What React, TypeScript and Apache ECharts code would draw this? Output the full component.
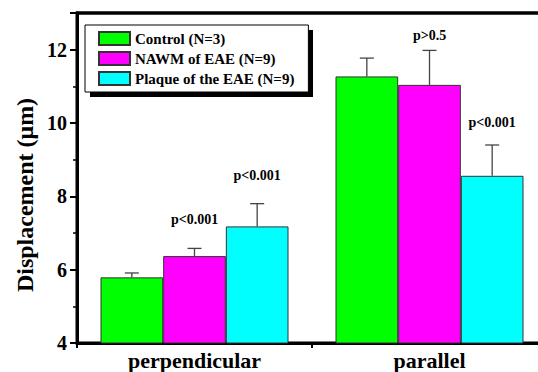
import React, { useEffect, useRef } from "react";
import * as echarts from "echarts";

const categories = ["perpendicular", "parallel"];
const seriesNames = ["Control (N=3)", "NAWM of EAE (N=9)", "Plaque of the EAE (N=9)"];
const seriesColors = ["#00FF00", "#FF00FF", "#00FFFF"];
const controlMean = [5.79, 11.27];
const controlErrTop = [5.91, 11.77];
const nawmMean = [6.37, 11.04];
const nawmErrTop = [6.58, 11.98];
const plaqueMean = [7.18, 8.56];
const plaqueErrTop = [7.8, 9.4];
// p-value annotations: category index, series index, text, y value of label
const pCat = [0, 0, 1, 1];
const pSeries = [1, 2, 1, 2];
const pText = ["p<0.001", "p<0.001", "p>0.5", "p<0.001"];
const pY = [7.37, 8.57, 12.38, 10.01];
const yTicks = [4, 6, 8, 10, 12];

const means = [controlMean, nawmMean, plaqueMean];
const errTops = [controlErrTop, nawmErrTop, plaqueErrTop];

const FONT = "Liberation Serif";

export default function App() {
  const ref = useRef<HTMLDivElement>(null);
  useEffect(() => {
    if (!ref.current) return;
    const chart = echarts.init(ref.current, null, { renderer: "svg" });
    const barFrac = 0.8 / 3;

    const barSeries = seriesNames.map((name, i) => ({
      name,
      type: "bar",
      data: means[i],
      barGap: "0%",
      barCategoryGap: "20%",
      itemStyle: { color: seriesColors[i], borderColor: "#333", borderWidth: 1 },
      z: 2,
    }));

    const errSeries = seriesNames.map((name, i) => ({
      type: "custom",
      name: name + "_err",
      z: 1,
      data: categories.map((_, c) => [c, means[i][c], errTops[i][c]]),
      renderItem: (params: any, api: any) => {
        const band = api.size([1, 0])[0];
        const bw = band * barFrac;
        const base = api.coord([api.value(0), api.value(1)]);
        const top = api.coord([api.value(0), api.value(2)]);
        const x = base[0] + (i - 1) * bw;
        const cap = 7;
        return {
          type: "group",
          children: [
            { type: "line", shape: { x1: x, y1: base[1], x2: x, y2: top[1] }, style: { stroke: "#444", lineWidth: 1.3 } },
            { type: "line", shape: { x1: x - cap, y1: top[1], x2: x + cap, y2: top[1] }, style: { stroke: "#444", lineWidth: 1.3 } },
          ],
        };
      },
    }));

    const pSeriesDef = {
      type: "custom",
      name: "p",
      z: 5,
      data: pText.map((t, k) => [pCat[k], pY[k], pSeries[k]]),
      renderItem: (params: any, api: any) => {
        const band = api.size([1, 0])[0];
        const bw = band * barFrac;
        const p = api.coord([api.value(0), api.value(1)]);
        const s = api.value(2);
        return {
          type: "text",
          x: p[0] + (s - 1) * bw,
          y: p[1],
          style: {
            text: pText[params.dataIndex],
            fill: "#000",
            fontFamily: FONT,
            fontWeight: "bold",
            fontSize: 14,
            align: "center",
            verticalAlign: "middle",
          },
        };
      },
    };

    chart.setOption({
      animation: false,
      grid: {
        left: 77,
        top: 13,
        width: 470,
        height: 330,
        containLabel: false,
        show: true,
        borderColor: "#000",
        borderWidth: 3,
      },
      legend: {
        data: seriesNames,
        orient: "vertical",
        left: 85,
        top: 25,
        itemWidth: 31,
        itemHeight: 13,
        itemGap: 5,
        padding: [6, 14, 6, 13],
        icon: "rect",
        backgroundColor: "#fff",
        borderColor: "#000",
        borderWidth: 1,
        textStyle: { fontFamily: FONT, fontWeight: "bold", fontSize: 15, color: "#000" },
      },
      xAxis: {
        type: "category",
        data: categories,
        axisLine: { show: true, onZero: false, lineStyle: { color: "#000", width: 3 } },
        axisTick: { show: true, length: 5, lineStyle: { color: "#000", width: 2 } },
        axisLabel: { fontFamily: FONT, fontWeight: "bold", fontSize: 22, color: "#000", margin: 6 },
      },
      yAxis: {
        type: "value",
        min: 4,
        max: 13,
        interval: 2,
        axisLine: { show: true, onZero: false, lineStyle: { color: "#000", width: 3 } },
        axisTick: { show: true, length: 7, lineStyle: { color: "#000", width: 2 } },
        minorTick: { show: true, splitNumber: 2, length: 4, lineStyle: { color: "#000", width: 1.5 } },
        splitLine: { show: false },
        axisLabel: {
          fontFamily: FONT,
          fontWeight: "bold",
          fontSize: 20,
          color: "#000",
          margin: 10,
          formatter: (v: number) => (yTicks.indexOf(v) >= 0 ? String(v) : ""),
        },
      },
      graphic: [
        {
          type: "line",
          shape: { x1: 76, y1: 13, x2: 548, y2: 13 },
          style: { stroke: "#000", lineWidth: 3 },
          z: 10,
        },
        {
          type: "rect",
          shape: { x: 90, y: 30, width: 223, height: 67 },
          style: { fill: "#000" },
          z: 0,
        },
        {
          type: "text",
          x: 25,
          y: 195,
          rotation: Math.PI / 2,
          style: {
            text: "Displacement (μm)",
            fontFamily: FONT,
            fontWeight: "bold",
            fontSize: 24,
            fill: "#000",
            align: "center",
            verticalAlign: "middle",
          },
        },
      ],
      series: [...barSeries, ...errSeries, pSeriesDef],
    });
    return () => chart.dispose();
  }, []);
  return <div ref={ref} style={{ position: "fixed", left: 0, top: 0, width: 549, height: 372, background: "#fff" }} />;
}
